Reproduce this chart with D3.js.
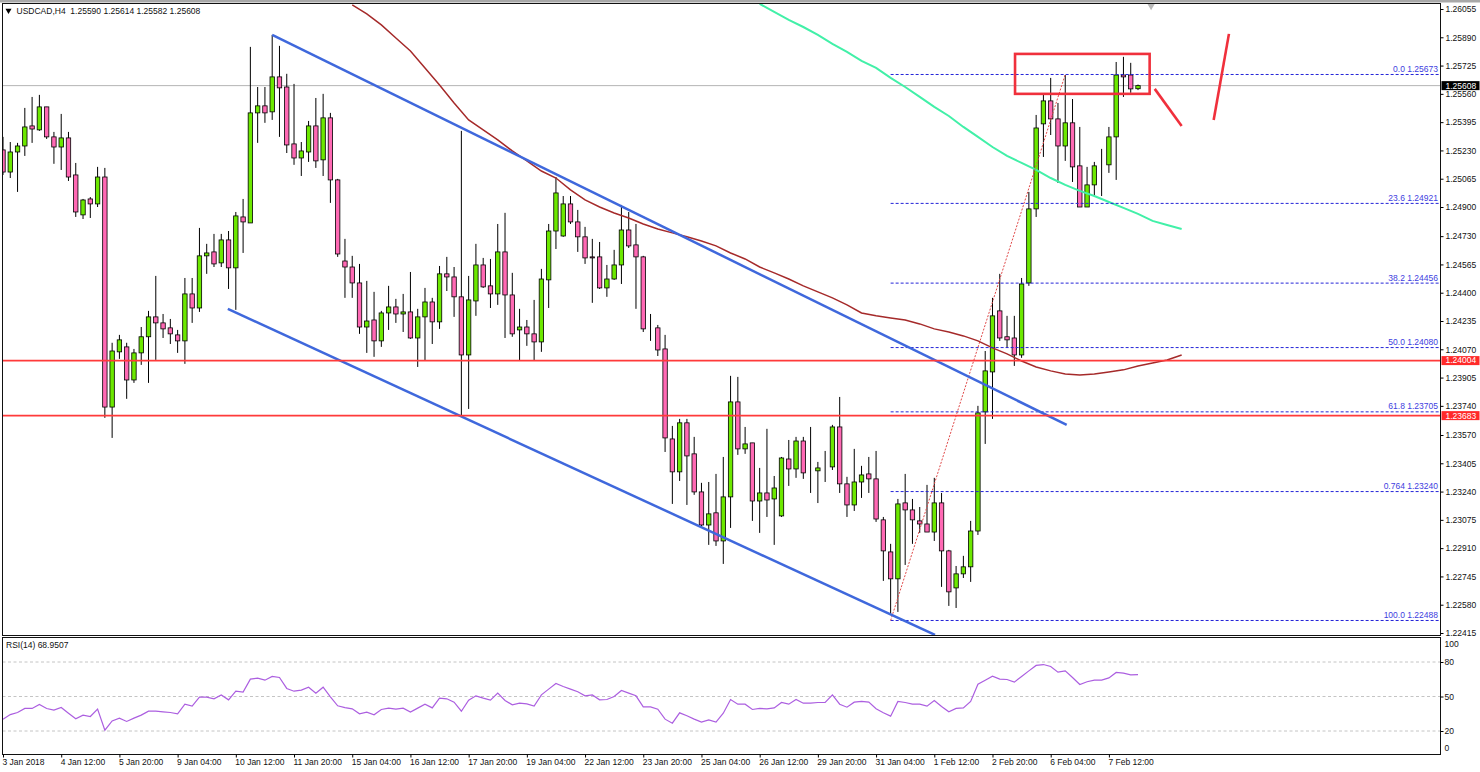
<!DOCTYPE html>
<html>
<head>
<meta charset="utf-8">
<title>USDCAD,H4</title>
<script src="https://d3js.org/d3.v7.min.js"></script>
<style>
  html, body { margin: 0; padding: 0; background: #fff; }
  svg { display: block; }
  text { font-family: "Liberation Sans", sans-serif; font-size: 8.5px; fill: #111; white-space: pre; }
  .axis .domain { display: none; }
  .axis line { stroke: #000; }
</style>
</head>
<body>
<svg id="chart" width="1480" height="772"></svg>
<script>
// candles (H4 bars, oldest first)
var opens = [
  1.25233,1.25104,1.25221,1.25256,1.25373,1.25350,1.25484,1.25309,1.25250,1.25303,
  1.25087,1.24854,1.24947,1.24918,1.25075,1.23733,1.24055,1.24084,1.23891,1.24049,
  1.24143,1.24259,1.24224,1.24195,1.24154,1.24119,1.24393,1.24311,1.24615,1.24638,
  1.24574,1.24708,1.24545,1.24842,1.24807,1.25449,1.25490,1.25455,1.25659,1.25600,
  1.25268,1.25186,1.25221,1.25373,1.25175,1.25420,1.25058,1.24585,1.24550,1.24457,
  1.24200,1.24241,1.24119,1.24282,1.24317,1.24276,1.24288,1.24136,1.24259,1.24346,
  1.24230,1.24510,1.24492,1.24376,1.24037,1.24352,1.24562,1.24440,1.24393,1.24638,
  1.24387,1.24183,1.24200,1.24160,1.24113,1.24475,1.24760,1.24731,1.24918,1.24813,
  1.24726,1.24609,1.24609,1.24428,1.24480,1.24562,1.24766,1.24679,1.24609,1.24195,
  1.24195,1.24072,1.23547,1.23355,1.23641,1.23460,1.23238,1.23045,1.23116,1.22952,
  1.23209,1.23763,1.23489,1.23524,1.23185,1.23232,1.23197,1.23098,1.23430,1.23372,
  1.23535,1.23349,1.23361,1.23378,1.23384,1.23617,1.23285,1.23162,1.23296,1.23343,
  1.23314,1.23075,1.22888,1.22731,1.23174,1.23133,1.23069,1.23051,1.23004,1.23174,
  1.22894,1.22678,1.22760,1.22801,1.23010,1.23705,1.23938,1.24294,1.24143,1.24136,
  1.24037,1.24457,1.24889,1.25385,1.25519,1.25414,1.25256,1.25391,1.25140,1.24900,
  1.25029,1.25140,1.25146,1.25309,1.25670,1.25670,1.25590
];
var highs = [
  1.25309,1.25279,1.25274,1.25478,1.25542,1.25554,1.25484,1.25338,1.25443,1.25338,
  1.25157,1.24947,1.24958,1.25134,1.25128,1.24108,1.24154,1.24108,1.24072,1.24200,
  1.24294,1.24498,1.24276,1.24247,1.24183,1.24486,1.24486,1.24778,1.24685,1.24743,
  1.24743,1.24760,1.24871,1.24947,1.25834,1.25600,1.25600,1.25904,1.25840,1.25677,
  1.25618,1.25279,1.25402,1.25536,1.25560,1.25449,1.25064,1.24714,1.24615,1.24568,
  1.24469,1.24405,1.24294,1.24440,1.24364,1.24393,1.24521,1.24306,1.24428,1.24370,
  1.24556,1.24609,1.24550,1.25344,1.24498,1.24685,1.24603,1.24597,1.24801,1.24866,
  1.24516,1.24306,1.24241,1.24358,1.24539,1.24801,1.25075,1.24964,1.24964,1.24883,
  1.24784,1.24714,1.24696,1.24562,1.24650,1.24912,1.24871,1.24801,1.24615,1.24276,
  1.24212,1.24154,1.23623,1.23664,1.23664,1.23559,1.23291,1.23296,1.23343,1.23442,
  1.23915,1.23909,1.23617,1.23524,1.23378,1.23606,1.23331,1.23442,1.23541,1.23559,
  1.23559,1.23617,1.23413,1.23477,1.23629,1.23792,1.23326,1.23489,1.23390,1.23442,
  1.23477,1.23092,1.22935,1.23197,1.23343,1.23197,1.23150,1.23279,1.23320,1.23232,
  1.22900,1.22806,1.22865,1.23069,1.23740,1.24060,1.24370,1.24510,1.24265,1.24265,
  1.24486,1.24988,1.25437,1.25554,1.25653,1.25507,1.25670,1.25530,1.25367,1.25134,
  1.25163,1.25239,1.25367,1.25746,1.25776,1.25741,1.25614
];
var lows = [
  1.25087,1.25069,1.24988,1.25198,1.25274,1.25344,1.25297,1.25152,1.25116,1.25052,
  1.24842,1.24830,1.24836,1.24900,1.23670,1.23553,1.24014,1.23781,1.23874,1.23979,
  1.23874,1.24008,1.24136,1.24101,1.24049,1.23985,1.24224,1.24288,1.24510,1.24550,
  1.24550,1.24422,1.24300,1.24632,1.24807,1.25274,1.25391,1.25408,1.25309,1.25215,
  1.25146,1.25081,1.25163,1.25128,1.25081,1.24924,1.24609,1.24370,1.24370,1.24160,
  1.24049,1.24026,1.24084,1.24183,1.24224,1.24171,1.24131,1.23967,1.24002,1.24101,
  1.24189,1.24410,1.24259,1.23681,1.23722,1.24265,1.24428,1.24311,1.24329,1.24136,
  1.24143,1.24002,1.24090,1.24002,1.24055,1.24311,1.24655,1.24726,1.24801,1.24638,
  1.24568,1.24341,1.24422,1.24376,1.24475,1.24451,1.24661,1.24306,1.24171,1.24119,
  1.24031,1.23471,1.23168,1.23302,1.23162,1.23221,1.23034,1.22929,1.22923,1.22818,
  1.23028,1.23454,1.23460,1.23069,1.22999,1.23092,1.22929,1.23092,1.23273,1.23320,
  1.23314,1.23232,1.23173,1.23296,1.23366,1.23232,1.23092,1.23127,1.23203,1.23232,
  1.23063,1.22719,1.22521,1.22538,1.22812,1.22935,1.22999,1.23004,1.22952,1.22684,
  1.22573,1.22561,1.22736,1.22713,1.22987,1.23518,1.23664,1.24119,1.24078,1.23973,
  1.24020,1.24440,1.24842,1.25192,1.25320,1.25040,1.25169,1.25046,1.24900,1.24900,
  1.24970,1.24964,1.25099,1.25058,1.25542,1.25566,1.25582
];
var closes = [
  1.25104,1.25221,1.25256,1.25367,1.25355,1.25484,1.25309,1.25250,1.25303,1.25075,
  1.24871,1.24941,1.24918,1.25075,1.23733,1.24060,1.24125,1.23891,1.24049,1.24143,
  1.24259,1.24224,1.24189,1.24160,1.24119,1.24393,1.24311,1.24615,1.24632,1.24568,
  1.24708,1.24545,1.24848,1.24813,1.25449,1.25490,1.25449,1.25659,1.25595,1.25262,
  1.25186,1.25227,1.25373,1.25169,1.25420,1.25058,1.24626,1.24550,1.24457,1.24200,
  1.24235,1.24119,1.24282,1.24317,1.24276,1.24288,1.24136,1.24259,1.24346,1.24230,
  1.24510,1.24492,1.24376,1.24037,1.24358,1.24562,1.24434,1.24393,1.24638,1.24387,
  1.24160,1.24200,1.24160,1.24113,1.24480,1.24760,1.24982,1.24918,1.24813,1.24726,
  1.24603,1.24603,1.24428,1.24480,1.24562,1.24766,1.24673,1.24609,1.24189,1.24195,
  1.24066,1.23553,1.23355,1.23641,1.23448,1.23238,1.23045,1.23110,1.22952,1.23209,
  1.23763,1.23489,1.23518,1.23185,1.23232,1.23191,1.23261,1.23436,1.23372,1.23535,
  1.23349,1.23349,1.23378,1.23378,1.23617,1.23285,1.23162,1.23296,1.23337,1.23314,
  1.23080,1.22894,1.22731,1.23168,1.23133,1.23075,1.23051,1.23004,1.23174,1.22894,
  1.22655,1.22760,1.22801,1.23010,1.23699,1.23944,1.24265,1.24136,1.24125,1.24037,
  1.24451,1.24889,1.25361,1.25519,1.25414,1.25256,1.25391,1.25134,1.24900,1.25029,
  1.25140,1.25140,1.25309,1.25670,1.25659,1.25589,1.25608
];
var rsi = [
  30.3,34.3,36.1,39.6,39.6,43.0,39.6,38.1,40.4,35.5,30.6,33.8,32.6,39.0,20.7,28.8,31.2,28.3,31.2,33.8,
  37.2,37.2,36.7,36.1,34.9,43.3,41.6,49.4,49.4,48.0,51.4,47.1,54.6,53.8,65.1,65.9,64.2,67.4,66.5,57.0,
  54.6,55.5,58.1,52.9,58.1,49.7,41.9,40.4,39.3,34.9,36.4,34.1,38.7,39.9,39.0,39.9,36.4,39.9,43.3,40.1,
  48.6,48.0,45.1,37.2,46.8,50.6,48.6,46.8,52.9,46.5,42.8,44.2,43.6,41.6,51.4,56.4,61.3,58.7,56.4,54.1,
  50.6,51.4,47.1,47.4,50.0,55.2,52.9,50.6,41.0,41.0,39.0,30.3,26.8,35.8,33.2,30.3,27.7,29.7,27.7,35.5,
  47.4,43.3,43.3,38.7,39.6,39.3,40.1,44.8,43.3,47.4,44.2,44.2,44.8,44.8,51.4,43.3,40.7,45.1,45.7,45.1,
  39.3,35.8,32.9,45.7,44.8,43.3,43.3,41.6,46.5,41.3,36.7,39.6,40.1,45.7,60.7,64.2,67.7,65.1,64.8,62.5,
  67.4,72.3,77.0,77.8,76.1,71.2,72.3,66.5,60.4,62.8,64.2,64.2,66.2,70.9,70.3,68.8,68.9507
];

// moving averages: bar number and price, they run on past the last bar
var redMaBars = d3.range(48, 163, 2);
var redMaPrices = [
  1.26079,1.26026,1.25962,1.25886,1.25810,1.25711,1.25612,1.25507,1.25408,1.25350,
  1.25291,1.25227,1.25169,1.25110,1.25069,1.25000,1.24941,1.24900,1.24865,1.24836,
  1.24801,1.24772,1.24749,1.24726,1.24702,1.24673,1.24632,1.24597,1.24550,1.24516,
  1.24480,1.24440,1.24405,1.24370,1.24329,1.24282,1.24265,1.24253,1.24241,1.24218,
  1.24189,1.24171,1.24148,1.24119,1.24078,1.24043,1.24002,1.23967,1.23944,1.23926,
  1.23920,1.23926,1.23938,1.23950,1.23973,1.23990,1.24008,1.24037
];
var greenMaBars = d3.range(104, 163, 2);
var greenMaPrices = [
  1.26085,1.26038,1.25991,1.25950,1.25904,1.25851,1.25805,1.25752,1.25711,1.25653,
  1.25600,1.25542,1.25484,1.25431,1.25367,1.25309,1.25250,1.25198,1.25157,1.25116,
  1.25069,1.25029,1.24994,1.24964,1.24929,1.24895,1.24860,1.24819,1.24795,1.24772
];

// drawn objects, as [bar, price] pairs
var channelUpper = [[37, 1.25904], [146.2, 1.23629]];
var channelLower = [[30.9, 1.24306], [128.1, 1.22404]];
var fibTrend = [[122, 1.22488], [146, 1.25673]];
var handDown = [[158.3, 1.25589], [162, 1.25373]];
var handUp = [[166.4, 1.25408], [168.5, 1.25910]];
var boxBars = [139.1, 157.6];
var boxPrices = [1.25793, 1.25560];

var fibStartBar = 122;
var fibNames = ["0.0", "23.6", "38.2", "50.0", "61.8", "0.764", "100.0"];
var fibPrices = [1.25673, 1.24921, 1.24456, 1.24080, 1.23705, 1.23240, 1.22488];
var supportLevels = [1.24004, 1.23683];
var lastPrice = 1.25608;

var priceTicks = [
  1.26055,1.25890,1.25725,1.25560,1.25395,1.25230,1.25065,1.24900,1.24730,1.24565,1.24400,1.24235,
  1.24070,1.23905,1.23740,1.23570,1.23405,1.23240,1.23075,1.22910,1.22745,1.22580,1.22415
];
var rsiTicks = [100, 80, 50, 20, 0];
var rsiLevels = [80, 50, 20];
var timeLabels = [
  "3 Jan 2018","4 Jan 12:00","5 Jan 20:00","9 Jan 04:00","10 Jan 12:00","11 Jan 20:00","15 Jan 04:00",
  "16 Jan 12:00","17 Jan 20:00","19 Jan 04:00","22 Jan 12:00","23 Jan 20:00","25 Jan 04:00","26 Jan 12:00",
  "29 Jan 20:00","31 Jan 04:00","1 Feb 12:00","2 Feb 20:00","6 Feb 04:00","7 Feb 12:00"
];
var barsPerLabel = 8;

var left = 2.5, right = 1440.5, mainTop = 3.5, mainBottom = 635.5, rsiTop = 637.5, rsiBottom = 754.5;

var x = d3.scaleLinear().domain([0, 156]).range([3, 1138]);
var y = d3.scaleLinear().domain([1.22415, 1.26055]).range([633, 9]);
var yRsi = d3.scaleLinear().domain([0, 100]).range([754, 639]);

var svg = d3.select("#chart");

svg.append("rect").attr("x", 0).attr("y", 0).attr("width", 1480).attr("height", 2.5).attr("fill", "#a8a8a8");

svg.append("clipPath").attr("id", "main-clip").append("rect")
  .attr("x", left).attr("y", mainTop).attr("width", right - left).attr("height", mainBottom - mainTop);
svg.append("clipPath").attr("id", "rsi-clip").append("rect")
  .attr("x", left).attr("y", rsiTop).attr("width", right - left).attr("height", rsiBottom - rsiTop);

var main = svg.append("g").attr("clip-path", "url(#main-clip)");
var line = d3.line().x((d) => x(d[0])).y((d) => y(d[1]));

// last price line goes under the candles
main.append("line")
  .attr("x1", left).attr("x2", right)
  .attr("y1", y(lastPrice)).attr("y2", y(lastPrice))
  .attr("stroke", "#b4b4b4").attr("stroke-width", 1);

var candles = main.append("g").selectAll("g")
  .data(d3.range(opens.length))
  .join("g");

candles.append("line")
  .attr("x1", (i) => x(i)).attr("x2", (i) => x(i))
  .attr("y1", (i) => y(highs[i])).attr("y2", (i) => y(lows[i]))
  .attr("stroke", "#000").attr("stroke-width", 1);

candles.append("rect")
  .attr("x", (i) => x(i) - 2.2)
  .attr("width", 4.4)
  .attr("y", (i) => y(Math.max(opens[i], closes[i])))
  .attr("height", (i) => Math.abs(y(opens[i]) - y(closes[i])))
  .attr("fill", (i) => closes[i] > opens[i] ? "#6ce800" : "#ff69b4")
  .attr("stroke", "#000").attr("stroke-width", 0.8);

// moving averages
main.append("path")
  .attr("d", line(redMaBars.map((b, i) => [b, redMaPrices[i]])))
  .attr("fill", "none").attr("stroke", "#a52a2a").attr("stroke-width", 1.5);
main.append("path")
  .attr("d", line(greenMaBars.map((b, i) => [b, greenMaPrices[i]])))
  .attr("fill", "none").attr("stroke", "#42f0a8").attr("stroke-width", 2);

// fibonacci levels
var fibs = main.append("g").selectAll("g").data(fibPrices).join("g");
fibs.append("line")
  .attr("x1", x(fibStartBar)).attr("x2", right)
  .attr("y1", (d) => y(d)).attr("y2", (d) => y(d))
  .attr("stroke", "#2424d8").attr("stroke-width", 1).attr("stroke-dasharray", "3,2");
fibs.append("text")
  .attr("x", right - 2.5)
  .attr("y", (d) => y(d) - 2.5)
  .attr("text-anchor", "end")
  .style("fill", "#4040e0")
  .text((d, i) => fibNames[i] + " " + d.toFixed(5));
main.append("path")
  .attr("d", line(fibTrend))
  .attr("fill", "none").attr("stroke", "#e04848").attr("stroke-width", 1).attr("stroke-dasharray", "2,1.5");

// channel
[channelUpper, channelLower].forEach(function(points) {
  main.append("path")
    .attr("d", line(points))
    .attr("fill", "none").attr("stroke", "#3f68dc").attr("stroke-width", 2.5);
});

// support lines
main.selectAll(".support").data(supportLevels).join("line")
  .attr("class", "support")
  .attr("x1", left).attr("x2", right)
  .attr("y1", (d) => y(d)).attr("y2", (d) => y(d))
  .attr("stroke", "#ff3a3a").attr("stroke-width", 1.6);

// hand drawn box and arrows
main.append("rect")
  .attr("x", x(boxBars[0])).attr("y", y(boxPrices[0]))
  .attr("width", x(boxBars[1]) - x(boxBars[0]))
  .attr("height", y(boxPrices[1]) - y(boxPrices[0]))
  .attr("fill", "none").attr("stroke", "#f0303c").attr("stroke-width", 2.6);
[handDown, handUp].forEach(function(points) {
  main.append("path")
    .attr("d", line(points))
    .attr("fill", "none").attr("stroke", "#f0303c").attr("stroke-width", 2.6);
});

// chart shift marker
svg.append("path")
  .attr("d", d3.symbol(d3.symbolTriangle, 30))
  .attr("transform", "translate(" + x(157.8) + "," + 5.5 + ") rotate(180)")
  .attr("fill", "#b8b8b8");

// rsi panel
var rsiPanel = svg.append("g").attr("clip-path", "url(#rsi-clip)");
rsiPanel.selectAll("line").data(rsiLevels).join("line")
  .attr("x1", left).attr("x2", right)
  .attr("y1", (d) => yRsi(d)).attr("y2", (d) => yRsi(d))
  .attr("stroke", "#c4c4c4").attr("stroke-width", 1).attr("stroke-dasharray", "3,2.5");
rsiPanel.append("path")
  .attr("d", d3.line().x((d, i) => x(i)).y((d) => yRsi(d))(rsi))
  .attr("fill", "none").attr("stroke", "#ac5fe0").attr("stroke-width", 1.2);

// frames
[[mainTop, mainBottom], [rsiTop, rsiBottom]].forEach(function(b) {
  svg.append("rect")
    .attr("x", left).attr("y", b[0]).attr("width", right - left).attr("height", b[1] - b[0])
    .attr("fill", "none").attr("stroke", "#111").attr("stroke-width", 1);
});

// axes
var priceAxis = svg.append("g").attr("class", "axis").attr("transform", "translate(" + right + ",0)")
  .call(d3.axisRight(y).tickValues(priceTicks).tickSize(3).tickPadding(2).tickFormat((d) => d.toFixed(5)));

var rsiAxis = svg.append("g").attr("class", "axis").attr("transform", "translate(" + right + ",0)")
  .call(d3.axisRight(yRsi).tickValues(rsiTicks).tickSize(3).tickPadding(1).tickFormat((d) => d));
rsiAxis.selectAll(".tick").filter((d) => d == 100 || d == 0).select("line").remove();
rsiAxis.selectAll(".tick text").attr("dy", (d) => d == 100 ? "0.85em" : d == 0 ? "-0.4em" : "0.32em");

var timeAxis = svg.append("g").attr("class", "axis").attr("transform", "translate(0," + rsiBottom + ")")
  .call(d3.axisBottom(x)
    .tickValues(timeLabels.map((d, i) => i * barsPerLabel))
    .tickSize(3).tickPadding(1)
    .tickFormat((d) => timeLabels[d / barsPerLabel]));
timeAxis.selectAll(".tick text").attr("text-anchor", "start").attr("x", -1);

// price tags on the axis
function priceTag(price, fill) {
  var tag = svg.append("g").attr("transform", "translate(0," + y(price) + ")");
  tag.append("rect").attr("x", right + 1).attr("y", -4.5).attr("width", 38).attr("height", 9).attr("fill", fill);
  tag.append("text").attr("x", right + 5).attr("dy", "0.34em").style("fill", "#fff").text(price.toFixed(5));
}
priceTag(lastPrice, "#000");
supportLevels.forEach((d) => priceTag(d, "#ff2a2a"));

// headers
svg.append("path")
  .attr("d", d3.symbol(d3.symbolTriangle, 16))
  .attr("transform", "translate(8.5,10.5) rotate(180)")
  .attr("fill", "#000");
svg.append("text").attr("x", 16.5).attr("y", 14)
  .text("USDCAD,H4  1.25590 1.25614 1.25582 1.25608");
svg.append("text").attr("x", 6).attr("y", 648).text("RSI(14) " + rsi[rsi.length - 1].toFixed(4));
</script>
</body>
</html>
